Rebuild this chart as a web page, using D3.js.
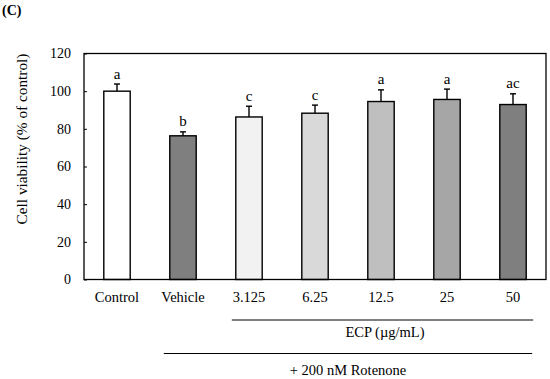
<!DOCTYPE html>
<html>
<head>
<meta charset="utf-8">
<script src="https://cdn.jsdelivr.net/npm/d3@7"></script>
<style>
  body { margin: 0; background: #fff; }
  text { font-family: "Liberation Serif", "Times New Roman", serif; fill: #000; }
</style>
</head>
<body>
<div id="chart"></div>
<script>
// chart data
const categories = ["Control", "Vehicle", "3.125", "6.25", "12.5", "25", "50"];
const viability = [100, 76.3, 86.3, 88.3, 94.5, 95.6, 92.9];
const errors = [3.8, 2.1, 5.7, 4.3, 6.2, 5.5, 5.7];
const letters = ["a", "b", "c", "c", "a", "a", "ac"];
const fills = ["#ffffff", "#7f7f7f", "#f2f2f2", "#d9d9d9", "#bfbfbf", "#a6a6a6", "#7f7f7f"];
const yTicks = [0, 20, 40, 60, 80, 100, 120];

const width = 550, height = 379;
const margin = { top: 53.5, right: 4, bottom: 99.5, left: 84 };
const innerW = width - margin.left - margin.right;
const innerH = height - margin.top - margin.bottom;

const svg = d3.select("#chart").append("svg")
  .attr("width", width)
  .attr("height", height);

svg.append("text")
  .attr("x", 2).attr("y", 15)
  .attr("font-size", 14)
  .attr("font-weight", "bold")
  .text("(C)");

const g = svg.append("g")
  .attr("transform", "translate(" + margin.left + "," + margin.top + ")");

const x = d3.scaleBand().domain(categories).range([0, innerW])
  .paddingInner(0.6).paddingOuter(0.3);
const y = d3.scaleLinear().domain([0, 120]).range([innerH, 0]);

// bars
g.selectAll(".bar")
  .data(categories)
  .enter().append("rect")
  .attr("class", "bar")
  .attr("x", d => x(d))
  .attr("y", (d, i) => y(viability[i]))
  .attr("width", x.bandwidth())
  .attr("height", (d, i) => innerH - y(viability[i]))
  .attr("fill", (d, i) => fills[i])
  .attr("stroke", "#000")
  .attr("stroke-width", 1.4);

// error bars (upper only)
const capW = 6;
categories.forEach((c, i) => {
  const cx = x(c) + x.bandwidth() / 2;
  const top = y(viability[i] + errors[i]);
  g.append("line")
    .attr("x1", cx).attr("x2", cx)
    .attr("y1", y(viability[i])).attr("y2", top)
    .attr("stroke", "#000").attr("stroke-width", 1.4);
  g.append("line")
    .attr("x1", cx - capW / 2).attr("x2", cx + capW / 2)
    .attr("y1", top).attr("y2", top)
    .attr("stroke", "#000").attr("stroke-width", 1.4);
  g.append("text")
    .attr("x", cx).attr("y", top - 5.5)
    .attr("text-anchor", "middle")
    .attr("font-size", 15)
    .text(letters[i]);
});

// plot frame
g.append("rect")
  .attr("width", innerW).attr("height", innerH)
  .attr("fill", "none")
  .attr("stroke", "#000")
  .attr("stroke-width", 1.3);

// y axis with inward ticks
const yAxis = g.append("g")
  .call(d3.axisLeft(y).tickValues(yTicks).tickSizeInner(-3).tickSizeOuter(0).tickPadding(13));
yAxis.select(".domain").remove();
yAxis.selectAll("line").attr("stroke", "#000").attr("stroke-width", 1);
yAxis.selectAll("text")
  .attr("font-size", 14)
  .attr("font-family", "Liberation Serif, serif");

// x axis labels
const xAxis = g.append("g")
  .attr("transform", "translate(0," + innerH + ")")
  .call(d3.axisBottom(x).tickSize(0).tickPadding(12));
xAxis.select(".domain").remove();
xAxis.selectAll("text")
  .attr("font-size", 14.5)
  .attr("font-family", "Liberation Serif, serif");

// y title
svg.append("text")
  .attr("transform", "translate(21.5,139) rotate(-90)")
  .attr("text-anchor", "middle")
  .attr("dy", "0.35em")
  .attr("font-size", 15.3)
  .text("Cell viability (% of control)");

// group brackets
const ecpStart = x("3.125") - 4, ecpEnd = x("50") + x.bandwidth() + 7;
g.append("line")
  .attr("x1", ecpStart).attr("x2", ecpEnd)
  .attr("y1", 320 - margin.top).attr("y2", 320 - margin.top)
  .attr("stroke", "#000").attr("stroke-width", 1);
g.append("text")
  .attr("x", (x("12.5") + x.bandwidth() / 2) + 4)
  .attr("y", 337 - margin.top)
  .attr("text-anchor", "middle")
  .attr("font-size", 14.5)
  .text("ECP (\u00b5g/mL)");

const rotStart = x("Vehicle") - 6, rotEnd = ecpEnd - 1;
g.append("line")
  .attr("x1", rotStart).attr("x2", rotEnd)
  .attr("y1", 353.5 - margin.top).attr("y2", 353.5 - margin.top)
  .attr("stroke", "#000").attr("stroke-width", 1);
g.append("text")
  .attr("x", (x("6.25") + x.bandwidth() / 2) + 33)
  .attr("y", 375 - margin.top)
  .attr("text-anchor", "middle")
  .attr("font-size", 14.5)
  .text("+ 200 nM Rotenone");
</script>
</body>
</html>
